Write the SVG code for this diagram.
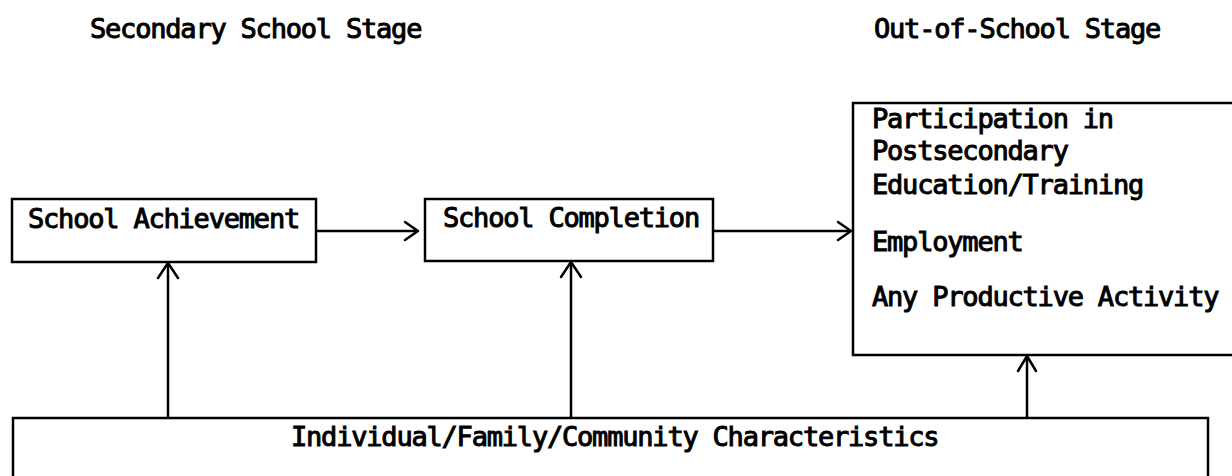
<svg xmlns="http://www.w3.org/2000/svg" width="1232" height="476" viewBox="0 0 1232 476">
<style>
  .box { fill: #fff; stroke: #000; stroke-width: 2.5; }
  .t { font-family: "DejaVu Sans Mono", "Liberation Mono", monospace; font-size: 27px; letter-spacing: -1.2px; fill: #000; stroke: #000; stroke-width: 1; }
  .c { fill: none; stroke: #000; stroke-width: 2.5; }
  .h { fill: none; stroke: #000; stroke-width: 2.5; stroke-linecap: round; stroke-linejoin: round; }
</style>
<rect width="1232" height="476" fill="#fff"/>
<g id="headers">
  <text class="t" x="90" y="38">Secondary School Stage</text>
  <text class="t" x="874" y="38">Out-of-School Stage</text>
</g>
<g id="connectors">
  <line class="c" x1="316" y1="231" x2="417" y2="231"/>
  <polyline class="h" points="405,222 418,231 405,240"/>
  <line class="c" x1="713" y1="231" x2="850" y2="231"/>
  <polyline class="h" points="838,222 851,231 838,240"/>
  <line class="c" x1="168" y1="418" x2="168" y2="264"/>
  <polyline class="h" points="158,278 168,263 178,278"/>
  <line class="c" x1="571" y1="418" x2="571" y2="263"/>
  <polyline class="h" points="561,277 571,262 581,277"/>
  <line class="c" x1="1027" y1="418" x2="1027" y2="357"/>
  <polyline class="h" points="1018,371 1027,356 1036,371"/>
</g>
<g id="school-achievement">
  <rect class="box" x="12" y="199" width="304" height="63"/>
  <text class="t" x="28" y="228">School Achievement</text>
</g>
<g id="school-completion">
  <rect class="box" x="425" y="199" width="288" height="62"/>
  <text class="t" x="443" y="227">School Completion</text>
</g>
<g id="outcomes">
  <rect class="box" x="853" y="103" width="400" height="252"/>
  <text class="t" x="872" y="128">Participation in</text>
  <text class="t" x="872" y="160">Postsecondary</text>
  <text class="t" x="872" y="194">Education/Training</text>
  <text class="t" x="872" y="251">Employment</text>
  <text class="t" x="872" y="306">Any Productive Activity</text>
</g>
<g id="characteristics">
  <rect class="box" x="13" y="418" width="1195" height="80"/>
  <text class="t" x="291" y="446">Individual/Family/Community Characteristics</text>
</g>
</svg>
